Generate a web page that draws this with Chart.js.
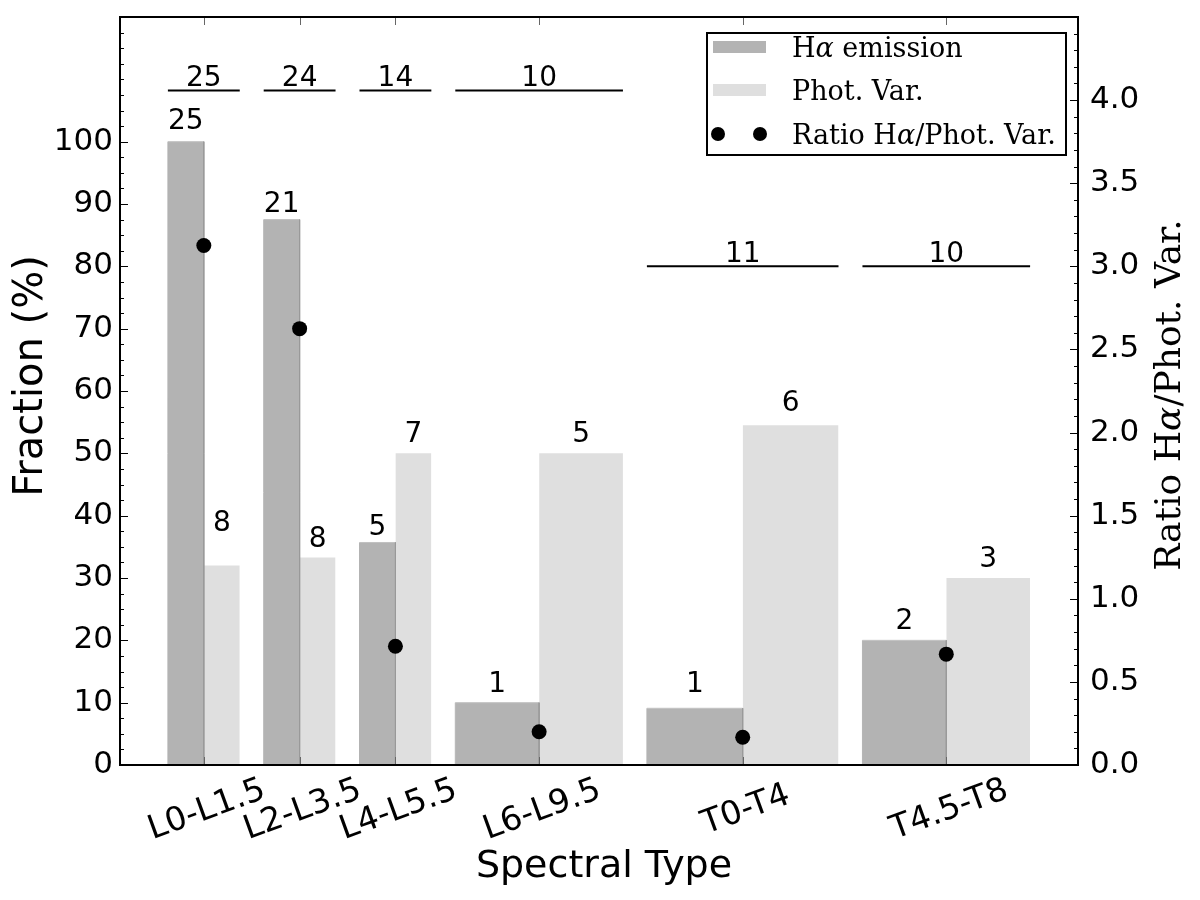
<!DOCTYPE html>
<html>
<head>
<meta charset="utf-8">
<script src="https://cdn.jsdelivr.net/npm/chart.js@4.4.1/dist/chart.umd.min.js"></script>
<style>
html,body{margin:0;padding:0;background:#fff;}
canvas{display:block;}
</style>
</head>
<body>
<canvas id="c" width="1200" height="900"></canvas>
<script>
// ---------------- DATA ----------------
const categories      = ['L0-L1.5', 'L2-L3.5', 'L4-L5.5', 'L6-L9.5', 'T0-T4', 'T4.5-T8'];
const rangeStart      = [0, 2, 4, 6, 10, 14.5];      // spectral-type index where the group starts
const rangeEnd        = [1.5, 3.5, 5.5, 9.5, 14, 18]; // spectral-type index where the group ends
const halphaFraction  = [100, 87.5, 35.7, 10, 9.1, 20];
const photVarFraction = [32, 33.3, 50, 50, 54.5, 30];
const ratioValues     = [3.125, 2.625, 0.714, 0.2, 0.167, 0.667];
const halphaCounts    = [25, 21, 5, 1, 1, 2];
const photVarCounts   = [8, 8, 7, 5, 6, 3];
const totalCounts     = [25, 24, 14, 10, 11, 10];
const totalLineLevel  = [108.2, 108.2, 108.2, 108.2, 80, 80];
const leftTickValues  = [0, 10, 20, 30, 40, 50, 60, 70, 80, 90, 100];
const rightTickValues = [0, 0.5, 1.0, 1.5, 2.0, 2.5, 3.0, 3.5, 4.0];
const legendLabels    = ['Hα emission', 'Phot. Var.', 'Ratio Hα/Phot. Var.'];
const xTitle = 'Spectral Type';
const yTitle = 'Fraction (%)';
const y2Title = 'Ratio Hα/Phot. Var.';

// ---------------- STYLE / LAYOUT ----------------
const SANS = "'DejaVu Sans', sans-serif";
const SERIF = "'DejaVu Serif', serif";
const HA_COLOR = '#b3b3b3';
const PV_COLOR = '#dfdfdf';
const LAYOUT = {
  haLabelGap: [23, 18, 18, 21, 26, 22],   // px between bar top and label centre
  pvLabelGap: [45, 21, 22, 22, 24, 21],
  totalLabelGap: 15
};

const centers = categories.map((_, i) => (rangeStart[i] + rangeEnd[i]) / 2);

const datasets = [];
datasets.push({
  label: 'ratio',
  data: centers.map((c, i) => ({x: c, y: ratioValues[i]})),
  yAxisID: 'y2', showLine: false,
  pointRadius: 7.5, pointBackgroundColor: '#000', pointBorderColor: '#000', pointBorderWidth: 0,
  order: 0
});
categories.forEach((cat, i) => {
  datasets.push({
    label: 'total ' + cat,
    data: [{x: rangeStart[i], y: totalLineLevel[i]}, {x: rangeEnd[i], y: totalLineLevel[i]}],
    yAxisID: 'y', borderColor: '#000', borderWidth: 2, pointRadius: 0, fill: false, order: 1
  });
});
categories.forEach((cat, i) => {
  datasets.push({
    label: 'Hα ' + cat,
    data: [{x: rangeStart[i], y: 0}, {x: rangeStart[i], y: halphaFraction[i]},
           {x: centers[i], y: halphaFraction[i]}, {x: centers[i], y: 0}],
    yAxisID: 'y', fill: 'origin', backgroundColor: HA_COLOR, borderWidth: 1,
    borderColor: HA_COLOR,
    segment: { borderColor: ctx => ctx.p0DataIndex === 2 ? '#9a9a9a' : (ctx.p0DataIndex === 1 ? '#c2c2c2' : HA_COLOR) },
    pointRadius: 0, tension: 0, order: 2
  });
});
categories.forEach((cat, i) => {
  datasets.push({
    label: 'Phot ' + cat,
    data: [{x: centers[i], y: 0}, {x: centers[i], y: photVarFraction[i]},
           {x: rangeEnd[i], y: photVarFraction[i]}, {x: rangeEnd[i], y: 0}],
    yAxisID: 'y', fill: 'origin', backgroundColor: PV_COLOR, borderWidth: 0,
    borderColor: PV_COLOR, pointRadius: 0, tension: 0, order: 3
  });
});

function drawRich(ctx, text, x, y, size, align) {
  const parts = text.split(/(α)/).filter(p => p.length);
  const fonts = parts.map(p => (p === 'α' ? 'italic ' : '') + size + 'px ' + SERIF);
  const widths = parts.map((p, k) => { ctx.font = fonts[k]; return ctx.measureText(p).width; });
  const total = widths.reduce((s, w) => s + w, 0);
  let cx = align === 'center' ? x - total / 2 : x;
  ctx.textAlign = 'left';
  parts.forEach((p, k) => { ctx.font = fonts[k]; ctx.fillText(p, cx, y); cx += widths[k]; });
}

function noPad(s) { s.paddingTop = 0; s.paddingBottom = 0; s.paddingLeft = 0; s.paddingRight = 0; }

const decor = {
  id: 'decor',
  afterDraw(chart) {
    const {ctx, chartArea: a} = chart;
    const xs = chart.scales.x, ys = chart.scales.y, y2s = chart.scales.y2;
    ctx.save();
    const line = (x1, y1, x2, y2) => { ctx.beginPath(); ctx.moveTo(x1, y1); ctx.lineTo(x2, y2); ctx.stroke(); };

    // ticks (inward)
    ctx.strokeStyle = '#000'; ctx.lineWidth = 1;
    for (let k = 0; k <= 48; k++) {
      const v = k * 2.5;
      const py = Math.round(ys.getPixelForValue(v)) + 0.5;
      const major = leftTickValues.includes(v);
      line(a.left, py, a.left + (major ? 8 : 4), py);
    }
    for (let k = 0; k <= 45; k++) {
      const v = k / 10;
      const py = Math.round(y2s.getPixelForValue(v)) + 0.5;
      const major = k % 5 === 0;
      line(a.right, py, a.right - (major ? 8 : 4), py);
    }
    ctx.strokeStyle = '#666';
    centers.forEach(c => {
      const px = Math.round(xs.getPixelForValue(c)) + 0.5;
      line(px, a.bottom, px, a.bottom - 8);
      line(px, a.top, px, a.top + 8);
    });

    // frame
    ctx.strokeStyle = '#000'; ctx.lineWidth = 2;
    ctx.strokeRect(a.left, a.top, a.right - a.left, a.bottom - a.top);

    // count labels
    ctx.fillStyle = '#000';
    ctx.textAlign = 'center'; ctx.textBaseline = 'alphabetic';
    const fs = 28; ctx.font = fs + 'px ' + SANS;
    const capHalf = 0.364 * fs;
    categories.forEach((cat, i) => {
      const s = rangeStart[i], e = rangeEnd[i], m = centers[i];
      ctx.fillText(String(halphaCounts[i]), xs.getPixelForValue((s + m) / 2),
        ys.getPixelForValue(halphaFraction[i]) - LAYOUT.haLabelGap[i] + capHalf);
      ctx.fillText(String(photVarCounts[i]), xs.getPixelForValue((m + e) / 2),
        ys.getPixelForValue(photVarFraction[i]) - LAYOUT.pvLabelGap[i] + capHalf);
      ctx.fillText(String(totalCounts[i]), xs.getPixelForValue(m),
        ys.getPixelForValue(totalLineLevel[i]) - LAYOUT.totalLabelGap + capHalf);
    });

    // x tick labels, rotated 20deg, centred on tick
    const tfs = 33; ctx.font = tfs + 'px ' + SANS;
    categories.forEach((cat, i) => {
      ctx.save();
      ctx.translate(xs.getPixelForValue(centers[i]) + 2, a.bottom + 42);
      ctx.rotate(-20 * Math.PI / 180);
      ctx.textAlign = 'center';
      ctx.fillText(cat, 0, 0.364 * tfs);
      ctx.restore();
    });

    // axis titles
    ctx.font = '38px ' + SANS; ctx.textAlign = 'center';
    ctx.fillText(xTitle, (a.left + a.right) / 2 + 5, a.bottom + 112);
    ctx.save();
    ctx.translate(42, (a.top + a.bottom) / 2 - 15);
    ctx.rotate(-Math.PI / 2);
    ctx.font = '40px ' + SANS; ctx.textAlign = 'center';
    ctx.fillText(yTitle, 0, 0);
    ctx.restore();
    ctx.save();
    ctx.translate(a.right + 102, (a.top + a.bottom) / 2 + 4);
    ctx.rotate(-Math.PI / 2);
    drawRich(ctx, y2Title, 0, 0, 36, 'center');
    ctx.restore();

    // legend
    const lw = 359, lh = 122;
    const lx = a.right - 12 - lw, ly = a.top + 16;
    ctx.fillStyle = '#fff'; ctx.fillRect(lx, ly, lw, lh);
    ctx.strokeStyle = '#000'; ctx.lineWidth = 2; ctx.strokeRect(lx, ly, lw, lh);
    const rows = [ly + 14, ly + 57, ly + 101];
    ctx.fillStyle = HA_COLOR; ctx.fillRect(lx + 6, rows[0] - 6, 53, 12);
    ctx.fillStyle = PV_COLOR; ctx.fillRect(lx + 6, rows[1] - 6, 53, 12);
    ctx.fillStyle = '#000';
    [lx + 11, lx + 53].forEach(cx => { ctx.beginPath(); ctx.arc(cx, rows[2], 7, 0, Math.PI * 2); ctx.fill(); });
    legendLabels.forEach((t, k) => drawRich(ctx, t, lx + 85, rows[k] + 10, 27, 'left'));
    ctx.restore();
  }
};

new Chart(document.getElementById('c'), {
  type: 'line',
  data: { datasets },
  options: {
    responsive: false, animation: false, devicePixelRatio: 1, events: [],
    layout: { padding: { top: 17, left: 0, right: 0, bottom: 0 } },
    plugins: { legend: { display: false }, tooltip: { enabled: false } },
    scales: {
      x: {
        type: 'linear', min: -1, max: 19,
        ticks: { display: false }, grid: { display: false, drawTicks: false }, border: { display: false },
        afterFit(s) { s.height = 135; noPad(s); }
      },
      y: {
        type: 'linear', position: 'left', min: 0, max: 120,
        afterBuildTicks(s) { s.ticks = leftTickValues.map(v => ({value: v})); },
        ticks: { font: { family: SANS, size: 31 }, color: '#000', padding: 7 },
        grid: { display: false, drawTicks: false }, border: { display: false },
        afterFit(s) { s.width = 120; noPad(s); }
      },
      y2: {
        type: 'linear', position: 'right', min: 0, max: 4.5,
        afterBuildTicks(s) { s.ticks = rightTickValues.map(v => ({value: v})); },
        ticks: { font: { family: SANS, size: 31 }, color: '#000', padding: 12, callback: v => Number(v).toFixed(1) },
        grid: { display: false, drawTicks: false }, border: { display: false },
        afterFit(s) { s.width = 122; noPad(s); }
      }
    }
  },
  plugins: [decor]
});
</script>
</body>
</html>
